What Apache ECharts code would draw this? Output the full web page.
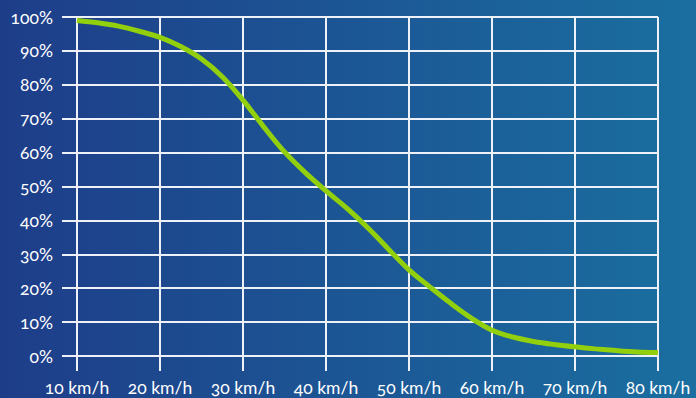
<!DOCTYPE html>
<html>
<head>
<meta charset="utf-8">
<script src="https://cdn.jsdelivr.net/npm/echarts@6/dist/echarts.min.js"></script>
<style>
  html, body { margin: 0; padding: 0; }
  #main { width: 696px; height: 398px; }
  #main text { font-variant-numeric: oldstyle-nums; font-feature-settings: "onum" 1; }
</style>
</head>
<body>
<div id="main"></div>
<script>
// speed in km/h vs share in %
const speeds = [10, 12.5, 15, 17.5, 20, 22.5, 25, 27.5, 30, 32.5, 35, 37.5, 40, 42.5, 45,
  47.5, 50, 52.5, 55, 57.5, 60, 62.5, 65, 67.5, 70, 72.5, 75, 77.5, 80];
const share = [99, 98.3, 97.3, 95.8, 94, 91.3, 87.6, 82.4, 75.5, 67.6, 60.2, 54.1, 48.7, 43.6, 37.9,
  31.6, 25.4, 20.4, 15.6, 11.2, 7.6, 5.6, 4.3, 3.4, 2.7, 2.1, 1.6, 1.2, 1];
const xTicks = [10, 20, 30, 40, 50, 60, 70, 80];
const yTicks = [0, 10, 20, 30, 40, 50, 60, 70, 80, 90, 100];

const myChart = echarts.init(document.getElementById('main'), null, { renderer: 'svg' });

const gridLine = { show: true, lineStyle: { color: '#eef2f8', width: 2 } };
const labelFont = { color: '#ffffff', fontSize: 17.5, fontFamily: 'Lato' };

const option = {
  animation: false,
  backgroundColor: new echarts.graphic.LinearGradient(0, 0, 1, 0, [
    { offset: 0, color: '#1e3d89' },
    { offset: 1, color: '#1a6fa0' }
  ]),
  grid: { left: 77, right: 38, top: 17, bottom: 42 },
  xAxis: {
    type: 'value',
    min: xTicks[0],
    max: xTicks[xTicks.length - 1],
    interval: 10,
    axisLine: { show: false },
    axisTick: { show: true, length: 15, lineStyle: { color: '#eef2f8', width: 2 } },
    splitLine: gridLine,
    axisLabel: Object.assign({ margin: 22, formatter: '{value} km/h' }, labelFont)
  },
  yAxis: {
    type: 'value',
    min: yTicks[0],
    max: yTicks[yTicks.length - 1],
    interval: 10,
    axisLine: { show: false },
    axisTick: { show: true, length: 15, lineStyle: { color: '#eef2f8', width: 2 } },
    splitLine: gridLine,
    axisLabel: Object.assign({ margin: 24, formatter: '{value}%' }, labelFont)
  },
  series: [
    {
      type: 'line',
      smooth: 0.35,
      showSymbol: false,
      lineStyle: { color: '#92cf0c', width: 5 },
      data: speeds.map((s, i) => [s, share[i]])
    }
  ]
};

myChart.setOption(option);
</script>
</body>
</html>
